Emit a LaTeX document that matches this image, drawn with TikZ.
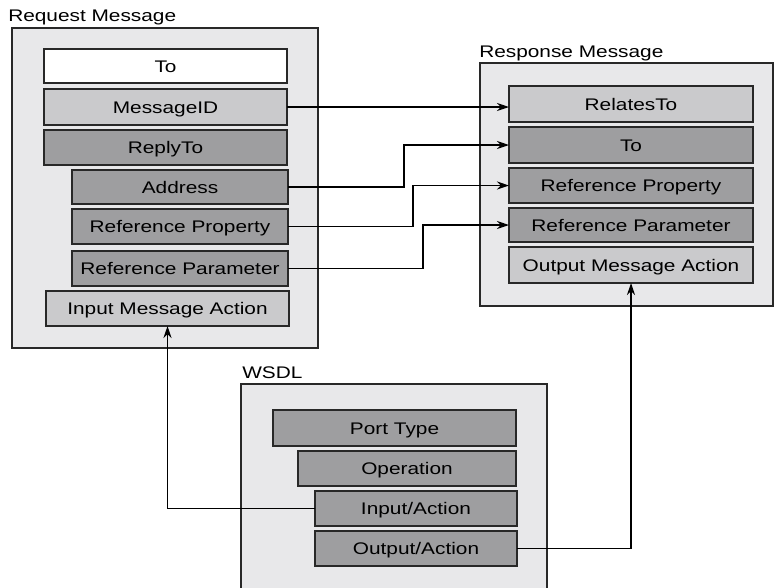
\documentclass[tikz,border=0pt]{standalone}
\usepackage{fontspec}
\setmainfont[FakeStretch=1.24]{Liberation Sans}
\usetikzlibrary{arrows.meta}
\definecolor{panelfill}{RGB}{232,232,234}
\definecolor{lightbox}{RGB}{202,202,204}
\definecolor{darkbox}{RGB}{158,158,160}
\definecolor{edge}{RGB}{40,40,40}
\begin{document}
\begin{tikzpicture}[x=0.75pt,y=-0.75pt,
  every node/.style={font=\fontsize{12.6}{15}\selectfont, text=black},
  panel/.style={draw=edge, line width=0.9pt, fill=panelfill},
  bx/.style={draw=edge, line width=1pt, inner sep=0pt, outer sep=0pt,
             text height=9pt, text depth=0pt, minimum width=#1},
  whitebox/.style={bx=#1, fill=white},
  litebox/.style={bx=#1, fill=lightbox},
  darkbx/.style={bx=#1, fill=darkbox},
  title/.style={anchor=base west, inner sep=0pt},
  conn/.style={draw=black, line width=1pt, -{Stealth[length=9pt,width=6pt]}}]
\useasboundingbox (0,0) rectangle (774,587);
\fill[white] (0,0) rectangle (774,587);

% Request Message panel
\node[title] (reqt) at (8,21) {Request Message};
\draw[panel] (12,28) rectangle (318,348);
\node[whitebox=182.25pt, minimum height=25.5pt]  (lto)    at (165.5,66)   {To};
\node[litebox=182.25pt,  minimum height=27pt]    (lmid)   at (165.5,107)  {MessageID};
\node[darkbx=182.25pt,   minimum height=26.25pt] (lreply) at (165.5,147.5) {ReplyTo};
\node[darkbx=162pt,      minimum height=25.5pt]  (laddr)  at (180,187)    {Address};
\node[darkbx=162pt,      minimum height=26.25pt] (lprop)  at (180,226.5)  {Reference Property};
\node[darkbx=162pt,      minimum height=26.25pt] (lparam) at (180,268.5)  {Reference Parameter};
\node[litebox=182.25pt,  minimum height=26.25pt] (lin)    at (167.5,308.5) {Input Message Action};

% Response Message panel
\node[title] (rest) at (479,57) {Response Message};
\draw[panel] (480,63) rectangle (773,306);
\node[litebox=183pt, minimum height=27pt]    (rrel)   at (631,104)   {RelatesTo};
\node[darkbx=183pt,  minimum height=27pt]    (rto)    at (631,145)   {To};
\node[darkbx=183pt,  minimum height=26.25pt] (rprop)  at (631,185.5) {Reference Property};
\node[darkbx=183pt,  minimum height=25.5pt]  (rparam) at (631,225)   {Reference Parameter};
\node[litebox=183pt, minimum height=27pt]    (rout)   at (631,265)   {Output Message Action};

% WSDL panel
\node[title] (wt) at (242,378) {WSDL};
\draw[panel] (241,384) rectangle (547,592);
\node[darkbx=182.25pt, minimum height=27pt]    (wport) at (394.5,428) {Port Type};
\node[darkbx=163.5pt,  minimum height=26.25pt] (wop)   at (407,468.5) {Operation};
\node[darkbx=151.5pt,  minimum height=26.25pt] (win)   at (416,508.5) {Input/Action};
\node[darkbx=151.5pt,  minimum height=26.25pt] (wout)  at (416,548.5) {Output/Action};

% connectors
\draw[conn] (lmid.east) -- (rrel.west |- lmid.east);
\draw[conn] (laddr.east) -- ++(116,0) |- (rto.west);
\draw[conn] (lprop.east) -- ++(125,0) |- (rprop.west);
\draw[conn] (lparam.east) -- ++(135,0) |- (rparam.west);
\draw[conn] (win.west) -| (lin.south);
\draw[conn] (wout.east) -| (rout.south);
\end{tikzpicture}
\end{document}
